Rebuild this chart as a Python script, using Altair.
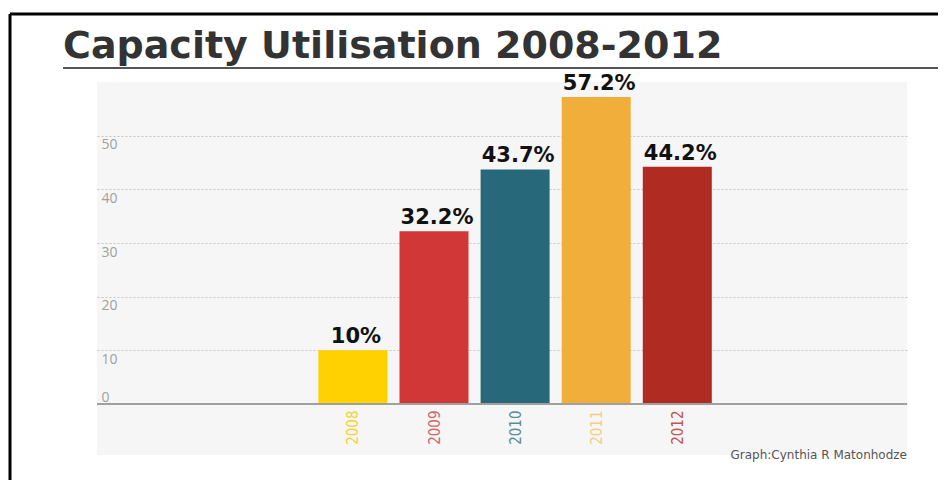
import altair as alt
import pandas as pd

years = [2008, 2009, 2010, 2011, 2012]
values = [10.0, 32.2, 43.7, 57.2, 44.2]
labels = ["10%", "32.2%", "43.7%", "57.2%", "44.2%"]
colors = ["#FFD100", "#D13737", "#27697A", "#F2AE3A", "#B02B22"]
label_colors = ["#F2D43A", "#D0696B", "#5C8C98", "#F2CE86", "#C2554F"]
y_ticks = [0, 10, 20, 30, 40, 50]
title_text = "Capacity Utilisation 2008-2012"
caption_text = "Graph:Cynthia R Matonhodze"

df = pd.DataFrame({"year": years, "value": values, "label": labels})

W, H = 810, 373
BG = "#f6f6f6"

xscale = alt.Scale(domain=[2004.906, 2014.771], nice=False, zero=False)
yscale = alt.Scale(domain=[-9.5, 60], nice=False, zero=False)

label_cond = [{"test": f"datum.value == {y}", "value": c} for y, c in zip(years, label_colors)]

bars = alt.Chart(df).mark_bar(width=69).encode(
    x=alt.X("year:Q", scale=xscale,
            axis=alt.Axis(values=years, labelAngle=270, format="d", title=None,
                          domain=False, ticks=False, grid=False, offset=-51,
                          labelPadding=6, labelFontSize=15,
                          labelFont="Liberation Sans Narrow, DejaVu Sans Condensed, Roboto Condensed, sans-serif",
                          labelColor={"condition": label_cond, "value": "#999"})),
    y=alt.Y("value:Q", scale=yscale,
            axis=alt.Axis(values=y_ticks, title=None, domain=False, ticks=False, tickSize=0,
                          grid=True, gridDash=[2, 2], gridColor="#c4c4c4", gridWidth=1,
                          labelAlign="left",
                          labelBaseline={"condition": {"test": "datum.value == 0", "value": "bottom"},
                                         "value": "top"},
                          labelPadding=-4,
                          labelOffset={"condition": {"test": "datum.value == 0", "value": 0},
                                       "value": 2},
                          labelColor="#a0a0a0", labelFontSize=14,
                          labelFont="Open Sans")),
    y2=alt.datum(0),
    color=alt.Color("year:N", scale=alt.Scale(domain=years, range=colors), legend=None),
)

text = alt.Chart(df).mark_text(
    baseline="bottom", dy=-3, dx=3, fontSize=21, fontWeight="bold",
    font="DejaVu Sans", color="#111"
).encode(x=alt.X("year:Q", scale=xscale), y=alt.Y("value:Q", scale=yscale), text="label:N")

baseline = alt.Chart(df).mark_rule(color="#a0a0a0", strokeWidth=1.5).encode(
    y=alt.datum(0), x=alt.value(0), x2=alt.value(W)
)

deco = alt.Data(values=[{"t": caption_text, "title": title_text}])
caption = alt.Chart(deco).mark_text(
    align="right", baseline="middle", fontSize=12, font="DejaVu Sans", color="#555"
).encode(x=alt.value(W), y=alt.value(H), text="t:N")

title = alt.Chart(deco).mark_text(
    align="left", baseline="alphabetic", fontSize=38, fontWeight="bold",
    font="DejaVu Sans", color="#333"
).encode(x=alt.value(-34), y=alt.value(-24), text="title:N")

underline = alt.Chart(deco).mark_rule(color="#555", strokeWidth=2).encode(
    x=alt.value(-34), x2=alt.value(843), y=alt.value(-14)
)
border_top = alt.Chart(deco).mark_rule(color="#000", strokeWidth=3).encode(
    x=alt.value(-87), x2=alt.value(843), y=alt.value(-68)
)
border_left = alt.Chart(deco).mark_rule(color="#000", strokeWidth=3).encode(
    x=alt.value(-87), y=alt.value(-68), y2=alt.value(400)
)

chart = alt.layer(bars, baseline, text, caption, title, underline, border_top, border_left).properties(
    width=W, height=H,
    background="white",
    autosize=alt.AutoSizeParams(type="none"),
    padding={"left": 89, "top": 74, "right": 31, "bottom": 25},
).configure_view(fill=BG, stroke=None)

chart.save("out.html", embed_options={"renderer": "svg", "actions": False})
